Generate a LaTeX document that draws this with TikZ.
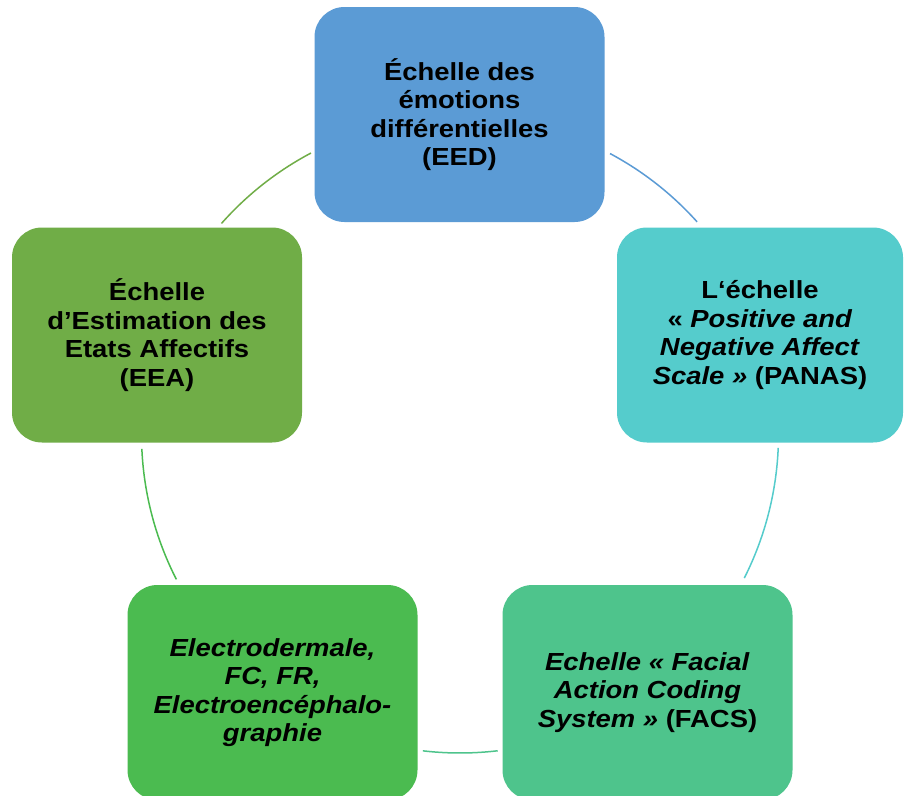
\documentclass[tikz,border=0pt]{standalone}
\usepackage{fontspec}
\setmainfont{Liberation Sans}[FakeStretch=1.11]
\usetikzlibrary{calc}
\definecolor{cEED}{HTML}{5B9BD5}
\definecolor{cPAN}{HTML}{55CCCC}
\definecolor{cFAC}{HTML}{4EC48C}
\definecolor{cELE}{HTML}{4BBB50}
\definecolor{cEEA}{HTML}{70AD47}
\begin{document}
\begin{tikzpicture}[x=1pt,y=-1pt,
  box/.style={rounded corners=30pt, minimum width=290pt, minimum height=215pt,
    align=center, inner sep=0pt, text=black,
    font=\fontsize{24.7}{28.5}\selectfont\bfseries},
  arcline/.style={line width=1.5pt}]
\useasboundingbox (0,0) rectangle (904,795);
\clip (0,0) rectangle (904,795);
\fill[white] (0,0) rectangle (904,795);

\node[box, fill=cEED] (eed) at (459.5,114.5)
  {Échelle des\\émotions\\différentielles\\(EED)};
\node[box, fill=cPAN, minimum width=286pt] (panas) at (760,335)
  {L‘échelle\\« \textit{Positive and}\\\textit{Negative Affect}\\\textit{Scale »} (PANAS)};
\node[box, fill=cFAC] (facs) at (647.5,692.5)
  {\textit{Echelle «~Facial}\\\textit{Action Coding}\\\textit{System »} (FACS)};
\node[box, fill=cELE] (elec) at (272.5,692.5)
  {\itshape Electrodermale,\\\itshape FC, FR,\\\itshape Electroencéphalo-\\\itshape graphie};
\node[box, fill=cEEA] (eea) at (157,335)
  {Échelle\\d’Estimation des\\Etats Affectifs\\(EEA)};

\coordinate (O) at (460,434.5);
\coordinate (a1) at ($(O)+(-138.5:318.5)$);
\coordinate (a2) at ($(O)+(-61.9:318.5)$);
\coordinate (a3) at ($(O)+(2.4:318.5)$);
\coordinate (a4) at ($(O)+(83.2:318.5)$);
\coordinate (a5) at ($(O)+(152.95:318.5)$);

\draw[arcline, cEEA] (a1) arc[start angle=-138.5, end angle=-117.9, radius=318.5];
\draw[arcline, cEED] (a2) arc[start angle=-61.9, end angle=-41.9, radius=318.5];
\draw[arcline, cPAN] (a3) arc[start angle=2.4, end angle=26.8, radius=318.5];
\draw[arcline, cFAC] (a4) arc[start angle=83.2, end angle=96.7, radius=318.5];
\draw[arcline, cELE] (a5) arc[start angle=152.95, end angle=177.4, radius=318.5];
\end{tikzpicture}
\end{document}
